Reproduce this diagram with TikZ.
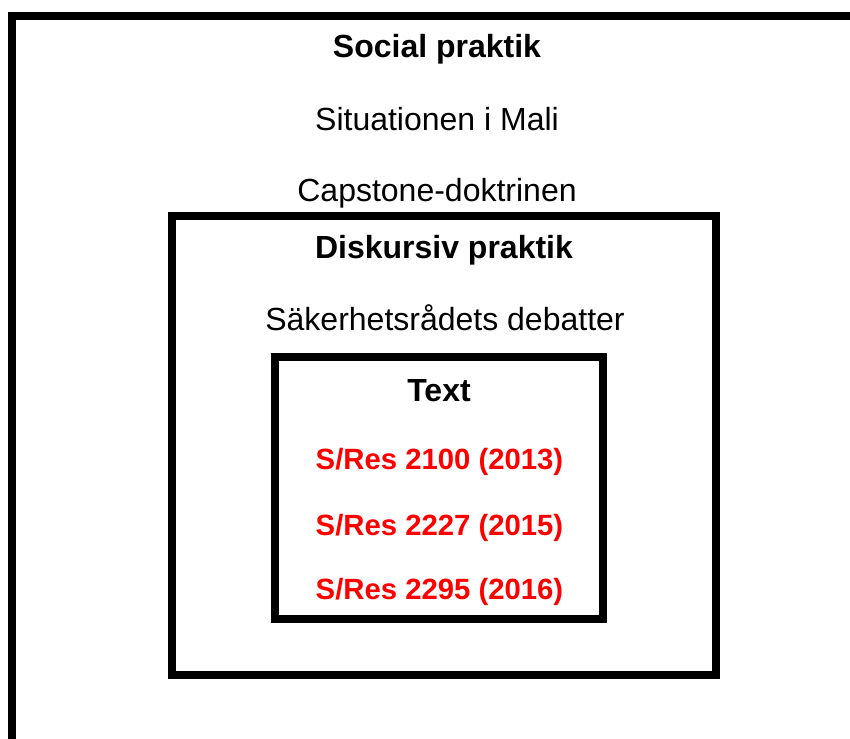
\documentclass[tikz,border=0pt]{standalone}
\usepackage{fontspec}
\setmainfont{Liberation Sans}
\begin{document}
\begin{tikzpicture}[x=1pt,y=-1pt,
  frame/.style={line width=8pt},
  heading/.style={anchor=base,inner sep=0pt,font=\fontsize{32}{38}\selectfont\bfseries},
  entry/.style={anchor=base,inner sep=0pt,font=\fontsize{32}{38}\selectfont},
  resolution/.style={anchor=base,inner sep=0pt,text=red,font=\fontsize{29.3}{35}\selectfont\bfseries}]

  % fix the page size
  \useasboundingbox (0,0) rectangle (850,738);
  \clip (0,0) rectangle (850,738);

  % draw the three frames
  \draw[frame] (12,16) rectangle (862,760);
  \draw[frame] (172,216) rectangle (716,675);
  \draw[frame] (275,357) rectangle (603,619);

  % social practice
  \node[heading] (social) at (437,58) {Social praktik};
  \node[entry] (mali) at (437,131) {Situationen i Mali};
  \node[entry] (capstone) at (437,201.7) {Capstone-doktrinen};

  % discursive practice
  \node[heading] (diskursiv) at (444,258) {Diskursiv praktik};
  \node[entry] (debatter) at (445,330) {Säkerhetsrådets debatter};

  % text
  \node[heading] (text) at (439,401.7) {Text};
  \foreach \y/\res in {
    469/{S/Res 2100 (2013)},
    535/{S/Res 2227 (2015)},
    599/{S/Res 2295 (2016)}} {
      \node[resolution] (res\y) at (439.5,\y) {\res};
  }

\end{tikzpicture}
\end{document}
